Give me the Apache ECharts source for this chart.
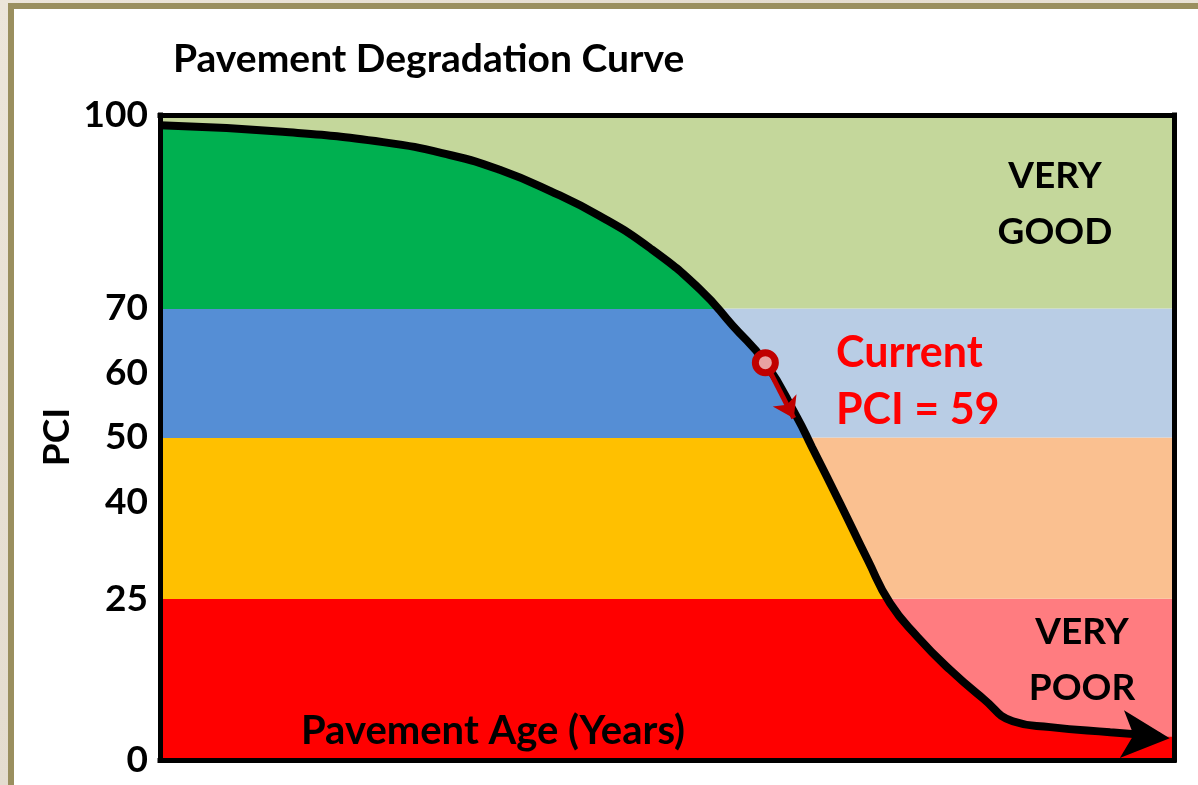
<!DOCTYPE html>
<html>
<head>
<meta charset="utf-8">
<script src="https://cdn.jsdelivr.net/npm/echarts@6/dist/echarts.min.js"></script>
<style>
  html, body { margin: 0; padding: 0; }
  body { width: 1198px; height: 785px; overflow: hidden; position: relative;
         background: linear-gradient(135deg, #ece5da 0%, #e4dccf 40%, #ebe4d9 70%, #e2d9cc 100%); }
  #frame { position: absolute; left: 8px; top: 3px; width: 1300px; height: 900px;
           background: #ffffff; border-left: 6px solid #9a8f5f; border-top: 6px solid #9a8f5f; }
  #chart { position: absolute; left: 0; top: 0; width: 1198px; height: 785px; }
</style>
</head>
<body>
<div id="frame"></div>
<div id="chart"></div>
<script>
// ---- data ----
const chartTitle = 'Pavement Degradation Curve';
const xAxisTitle = 'Pavement Age (Years)';
const yAxisTitle = 'PCI';
// relative pavement age (0 = new, 100 = end of plotted life)
const ageValues = [0, 12.1, 22.0, 28.6, 33.5, 38.5, 43.4, 48.3, 53.3, 56.5, 59.7, 62.8, 64.3, 67.1, 69.8, 72.0, 74.7, 77.9, 81.2, 84.1, 87.8, 93.7, 98.6, 100];
const pciValues = [98.4, 97.4, 95.8, 93.8, 91.5, 88.2, 84.3, 79.4, 72.9, 67.3, 61.6, 53.2, 48.5, 39.7, 31.0, 24.3, 19.1, 14.0, 9.5, 6.0, 5.1, 4.3, 3.7, 3.6];
const yTickLabels = [0, 25, 40, 50, 60, 70, 100];
const bandLimits = [0, 25, 50, 70, 100];
const bandFillColors = ['#ff0000', '#ffc000', '#558ed5', '#00b050'];   // under the curve
const bandBackColors = ['#ff7c80', '#fac090', '#b9cde5', '#c4d79b'];   // above the curve
const currentAge = 59.7;
const currentPciOnCurve = 61.6;
const currentPCI = 59;
const currentArrowEnd = [62.5, 53.0];
const goodLabel = ['VERY', 'GOOD'];
const poorLabel = ['VERY', 'POOR'];

const curve = ageValues.map((a, i) => [a, pciValues[i]]);
const lineCurve = curve.slice(0, -1);
const lastPoint = lineCurve[lineCurve.length - 1];

const FONT = 'Lato, "Open Sans", sans-serif';

const chart = echarts.init(document.getElementById('chart'), null, { renderer: 'canvas' });

const markAreaData = bandBackColors.map((c, i) => [
  { yAxis: bandLimits[i], itemStyle: { color: c, opacity: 1 } },
  { yAxis: bandLimits[i + 1] }
]);

const pieces = bandFillColors.map((c, i) => {
  const p = { color: c };
  if (i > 0) p.gte = bandLimits[i];
  if (i < bandFillColors.length - 1) p.lt = bandLimits[i + 1];
  return p;
});

const axisLine = { show: true, onZero: false, lineStyle: { color: '#000', width: 5, cap: 'square' } };
const SMOOTH = 0.5;

const option = {
  animation: false,
  backgroundColor: 'transparent',
  title: {
    text: chartTitle, left: 168, top: 35,
    textStyle: { fontFamily: FONT, fontWeight: 'bold', fontSize: 39, color: '#000' }
  },
  grid: { left: 160, top: 115, right: 24, bottom: 25 },
  xAxis: [
    { type: 'value', min: 0, max: 100, position: 'bottom', z: 10,
      axisLine: axisLine, axisTick: { show: false }, axisLabel: { show: false }, splitLine: { show: false } },
    { type: 'value', min: 0, max: 100, position: 'top', z: 10,
      axisLine: axisLine, axisTick: { show: false }, axisLabel: { show: false }, splitLine: { show: false } }
  ],
  yAxis: [
    { type: 'value', min: 0, max: 100, interval: 5, position: 'left', z: 10,
      axisLine: axisLine, axisTick: { show: false }, splitLine: { show: false },
      axisLabel: {
        margin: 12, fontFamily: FONT, fontWeight: 'bold', fontSize: 37, color: '#000',
        formatter: v => (yTickLabels.indexOf(v) >= 0 ? String(v) : '')
      } },
    { type: 'value', min: 0, max: 100, position: 'right', z: 10,
      axisLine: axisLine, axisTick: { show: false }, axisLabel: { show: false }, splitLine: { show: false } }
  ],
  visualMap: {
    show: false, type: 'piecewise', dimension: 1, seriesIndex: 0,
    pieces: pieces
  },
  series: [
    {
      name: 'fill', type: 'line', data: curve, smooth: SMOOTH, symbol: 'none', z: 2,
      lineStyle: { width: 0 }, areaStyle: { opacity: 1 }, silent: true,
      markArea: { silent: true, z: 1, label: { show: false }, data: markAreaData }
    },
    {
      name: 'PCI', type: 'line', data: lineCurve, smooth: SMOOTH, symbol: 'none', z: 4,
      lineStyle: { color: '#000', width: 8 }, silent: true
    },
    {
      name: 'arrowhead', type: 'scatter', data: [lastPoint], z: 5, silent: true,
      symbol: 'path://M0,0 L45,23 L0,46 L11,23 Z', symbolSize: [48, 48],
      symbolRotate: -5, symbolOffset: [-14, 0],
      itemStyle: { color: '#000', opacity: 1 }
    },
    {
      name: 'current', type: 'scatter', data: [[currentAge, currentPciOnCurve]], z: 7, silent: true,
      symbol: 'circle', symbolSize: 20,
      itemStyle: { color: '#e8a2a2', borderColor: '#c00000', borderWidth: 7, opacity: 1 },
      markLine: {
        silent: true, symbol: ['none', 'arrow'], symbolSize: 20,
        label: { show: false },
        lineStyle: { color: '#c00000', width: 5, type: 'solid', opacity: 1 },
        data: [[{ coord: [currentAge, currentPciOnCurve] }, { coord: currentArrowEnd }]]
      }
    }
  ],
  graphic: [
    { type: 'text', x: 57, y: 437, rotation: Math.PI / 2, z: 20,
      style: { text: yAxisTitle, fontFamily: FONT, fontWeight: 'bold', fontSize: 37, fill: '#000',
               textAlign: 'center', textVerticalAlign: 'middle' } },
    { type: 'text', x: 493, y: 731, z: 20,
      style: { text: xAxisTitle, fontFamily: FONT, fontWeight: 'bold', fontSize: 40, fill: '#000',
               textAlign: 'center', textVerticalAlign: 'middle' } },
    { type: 'text', x: 1055, y: 204, z: 20,
      style: { text: goodLabel.join('\n'), fontFamily: FONT, fontWeight: 'bold', fontSize: 37, lineHeight: 56, fill: '#000',
               textAlign: 'center', textVerticalAlign: 'middle' } },
    { type: 'text', x: 1082, y: 660, z: 20,
      style: { text: poorLabel.join('\n'), fontFamily: FONT, fontWeight: 'bold', fontSize: 37, lineHeight: 56, fill: '#000',
               textAlign: 'center', textVerticalAlign: 'middle' } },
    { type: 'text', x: 836, y: 382, z: 20,
      style: { text: 'Current\nPCI = ' + currentPCI, fontFamily: FONT, fontWeight: 'bold', fontSize: 43, lineHeight: 57, fill: '#ff0000',
               textAlign: 'left', textVerticalAlign: 'middle' } }
  ]
};

chart.setOption(option);
</script>
</body>
</html>
